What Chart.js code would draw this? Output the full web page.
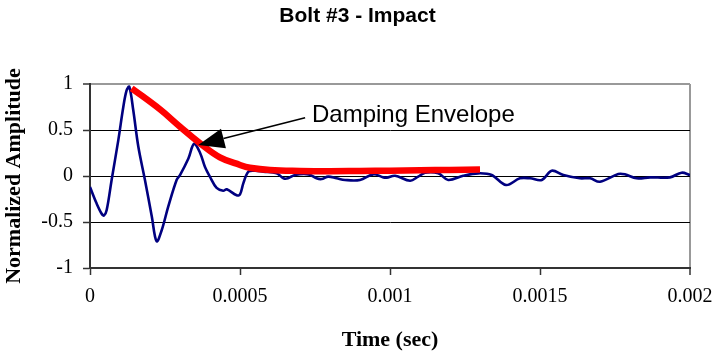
<!DOCTYPE html>
<html>
<head>
<meta charset="utf-8">
<script src="https://cdn.jsdelivr.net/npm/chart.js@4/dist/chart.umd.min.js"></script>
<style>
html,body{margin:0;padding:0;background:#fff;}
canvas{display:block;}
</style>
</head>
<body>
<canvas id="c" width="715" height="354"></canvas>
<script>
// ---- data ----
const timeBlue = [0,0.0000222,0.0000389,0.0000467,0.0000556,0.0000722,0.0000944,0.000111,0.000122,0.000131,0.000144,0.000161,0.000183,0.000206,0.000222,0.000239,0.000261,0.000289,0.0003,0.000328,0.000347,0.000367,0.000383,0.0004,0.000422,0.000444,0.000456,0.000489,0.0005,0.000511,0.000528,0.00055,0.000578,0.000622,0.000645,0.00066,0.000683,0.000728,0.000755,0.000772,0.000794,0.000822,0.00085,0.0009,0.000944,0.000978,0.000989,0.001017,0.001067,0.001094,0.001117,0.001161,0.001194,0.001244,0.001294,0.001339,0.001387,0.001433,0.001467,0.001506,0.001539,0.001578,0.001633,0.001667,0.0017,0.001761,0.001783,0.001822,0.001867,0.001933,0.001972,0.002];
const ampBlue  = [-0.12,-0.30,-0.41,-0.43,-0.37,-0.04,0.39,0.75,0.93,0.97,0.72,0.32,-0.04,-0.44,-0.71,-0.59,-0.33,-0.04,0.01,0.19,0.35,0.25,0.10,-0.01,-0.13,-0.16,-0.145,-0.21,-0.20,-0.08,0.047,0.058,0.047,0.03,-0.025,-0.025,0.011,0.018,-0.025,-0.033,-0.007,-0.025,-0.043,-0.043,0.018,-0.015,-0.018,0.003,-0.051,-0.007,0.036,0.029,-0.043,0.003,0.029,0.011,-0.098,-0.025,-0.025,-0.043,0.058,0.011,-0.025,-0.025,-0.062,0.022,0.018,-0.025,-0.015,-0.015,0.036,0.011];
const timeEnv  = [0.000139,0.000233,0.0003,0.000367,0.000433,0.0005,0.000533,0.0006,0.0007,0.0008,0.0009,0.001,0.0011,0.0012,0.0013];
const ampEnv   = [0.953,0.725,0.536,0.355,0.203,0.12,0.09,0.065,0.055,0.052,0.055,0.058,0.062,0.066,0.07];
const xTickLabels = ['0','0.0005','0.001','0.0015','0.002'];
const yTickLabels = ['-1','-0.5','0','0.5','1'];
const chartTitle = 'Bolt #3 - Impact';
const xTitle = 'Time (sec)';
const yTitle = 'Normalized Amplitude';
const annoText = 'Damping Envelope';
const annoTextPos = [0.00074, 0.59];
const arrowFrom = [0.000717, 0.634];
const arrowTo = [0.000361, 0.337];

const toXY = (xs, ys) => xs.map((x, i) => ({x: x, y: ys[i]}));

const annotationPlugin = {
  id: 'anno',
  afterDatasetsDraw(chart) {
    const ctx = chart.ctx, xs = chart.scales.x, ys = chart.scales.y;
    const x1 = xs.getPixelForValue(arrowFrom[0]), y1 = ys.getPixelForValue(arrowFrom[1]);
    const x2 = xs.getPixelForValue(arrowTo[0]), y2 = ys.getPixelForValue(arrowTo[1]);
    const dx = x1 - x2, dy = y1 - y2, len = Math.hypot(dx, dy);
    const ux = dx / len, uy = dy / len;
    const headLen = 26, headW = 10;
    const bx = x2 + ux * headLen, by = y2 + uy * headLen;
    ctx.save();
    ctx.strokeStyle = '#000'; ctx.lineWidth = 1.6;
    ctx.beginPath(); ctx.moveTo(x1, y1); ctx.lineTo(bx, by); ctx.stroke();
    ctx.fillStyle = '#000';
    ctx.beginPath();
    ctx.moveTo(x2, y2);
    ctx.lineTo(bx - uy * headW, by + ux * headW);
    ctx.lineTo(bx + uy * headW, by - ux * headW);
    ctx.closePath(); ctx.fill();
    ctx.font = '24px "Liberation Sans", Arial, sans-serif';
    ctx.textAlign = 'left'; ctx.textBaseline = 'alphabetic';
    ctx.fillText(annoText, xs.getPixelForValue(annoTextPos[0]), ys.getPixelForValue(annoTextPos[1]));
    ctx.restore();
  }
};

const near = (a, b) => Math.abs(a - b) < 1e-9;

new Chart(document.getElementById('c'), {
  type: 'line',
  data: {
    datasets: [
      { label: 'Envelope', data: toXY(timeEnv, ampEnv), borderColor: '#ff0000', borderWidth: 6.5, pointRadius: 0, tension: 0.4, fill: false, borderCapStyle: 'butt' },
      { label: 'Signal', data: toXY(timeBlue, ampBlue), borderColor: '#000080', borderWidth: 2.6, pointRadius: 0, tension: 0.35, fill: false }
    ]
  },
  options: {
    responsive: false,
    devicePixelRatio: 1,
    animation: false,
    events: [],
    layout: { padding: 0 },
    plugins: {
      legend: { display: false },
      tooltip: { enabled: false },
      title: {
        display: true, text: chartTitle, color: '#000',
        font: { family: '"Liberation Sans", Arial, sans-serif', size: 21, weight: 'bold', lineHeight: 1.2 },
        padding: { top: 4, bottom: 84 - 4 - 21 * 1.2 }
      }
    },
    scales: {
      x: {
        type: 'linear', min: 0, max: 0.002,
        afterFit(scale) { scale.height = 86; scale.paddingRight = 25; scale.paddingLeft = 0; },
        afterBuildTicks(scale) { scale.ticks = xTickLabels.map((l, i) => ({ value: i * 0.0005 })); },
        ticks: {
          color: '#000', padding: 10, maxRotation: 0, autoSkip: false,
          font: { family: '"Liberation Serif", "Times New Roman", serif', size: 20 },
          callback: (v, i) => xTickLabels[i]
        },
        grid: {
          drawOnChartArea: true,
          color: (c) => (c.tick && near(c.tick.value, 0.002)) ? '#999999' : 'rgba(0,0,0,0)',
          lineWidth: (c) => (c.tick && near(c.tick.value, 0.002)) ? 2 : 1,
          tickColor: '#333', tickLength: 7, tickWidth: 1.5
        },
        border: { color: '#333', width: 2 },
        title: {
          display: true, text: xTitle, color: '#000',
          font: { family: '"Liberation Serif", "Times New Roman", serif', size: 22, weight: 'bold', lineHeight: 1.2 },
          padding: { top: 0, bottom: 0 }
        }
      },
      y: {
        min: -1, max: 1,
        afterFit(scale) { scale.width = 90; scale.paddingTop = 0; scale.paddingBottom = 0; },
        afterBuildTicks(scale) { scale.ticks = yTickLabels.map((l, i) => ({ value: -1 + i * 0.5 })); },
        ticks: {
          color: '#000', padding: 10,
          font: { family: '"Liberation Serif", "Times New Roman", serif', size: 20 },
          callback: (v, i) => yTickLabels[i]
        },
        grid: {
          color: (c) => (c.tick && near(c.tick.value, 1)) ? '#999999' : '#000000',
          lineWidth: (c) => (c.tick && near(c.tick.value, 1)) ? 2 : 1,
          tickColor: '#333', tickLength: 7, tickWidth: 1.5
        },
        border: { color: '#333', width: 2 },
        title: {
          display: true, text: yTitle, color: '#000',
          font: { family: '"Liberation Serif", "Times New Roman", serif', size: 22, weight: 'bold', lineHeight: 1.2 },
          padding: { top: 1, bottom: 0 }
        }
      }
    }
  },
  plugins: [annotationPlugin]
});
</script>
</body>
</html>
